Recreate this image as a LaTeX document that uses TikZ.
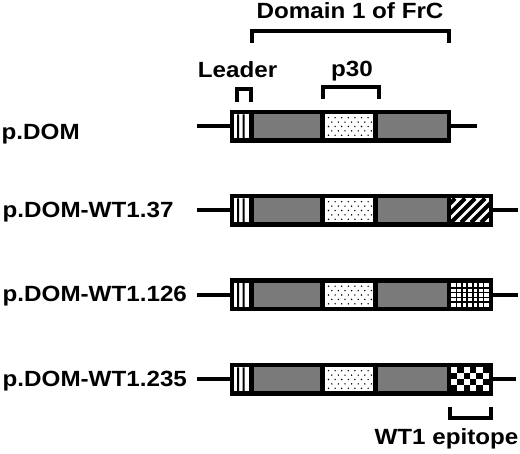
\documentclass[tikz,border=0pt]{standalone}
\usepackage{fontspec}
\setmainfont[FakeStretch=1.1]{Liberation Sans}
\usepackage{tikz}
\usetikzlibrary{calc}
\definecolor{PDgray}{RGB}{122,122,122}
\definecolor{PDink}{RGB}{0,0,0}
\tikzset{
  backbone/.style={line width=4pt,draw=PDink},
  outerbox/.style={rectangle,fill=PDink,inner sep=0pt,outer sep=0pt,minimum height=33pt},
  seg/.style={rectangle,inner sep=0pt,outer sep=0pt,minimum height=24pt},
  grayseg/.style={seg,fill=PDgray},
  whiteseg/.style={seg,fill=white},
  bracket/.style={line width=4pt,draw=PDink,line join=miter},
  lbl/.style={font=\bfseries\fontsize{22}{24}\selectfont,inner sep=0pt,anchor=base west},
  tag/.style={font=\bfseries\fontsize{22}{24}\selectfont,inner sep=0pt,anchor=base}
}
\begin{document}
\begin{tikzpicture}[x=1pt,y=-1pt]
  \useasboundingbox (0,0) rectangle (520,454);

  % headings and their brackets
  \node[tag] (domain) at (350,18.5) {Domain 1 of FrC};
  \node[tag] (leader) at (237.5,78) {Leader};
  \node[tag] (pthirty) at (352,77) {p30};
  \node[tag] (epitope) at (446.5,445) {WT1 epitope};
  \coordinate (domL) at (252,43);
  \coordinate (domR) at (448.5,43);
  \draw[bracket] (domL) -- ++(0,-12) -| (domR);
  \coordinate (leadL) at (237,102);
  \coordinate (leadR) at (251,102);
  \draw[bracket] (leadL) -- ++(0,-13) -| (leadR);
  \coordinate (pL) at (323,99);
  \coordinate (pR) at (379,99);
  \draw[bracket] (pL) -- ++(0,-12) -| (pR);
  \coordinate (epiL) at (450,407);
  \coordinate (epiR) at (491,407);
  \draw[bracket] (epiL) -- ++(0,11) -| (epiR);

  % constructs
  \foreach \n/\y/\xe/\xl in {a/126.5/451/477,b/210.5/493/518,c/295/493/518,d/379.5/493/516}{
    \coordinate (left\n) at (197,\y);
    \coordinate (right\n) at (\xl,\y);
    \draw[backbone] (left\n) -- (right\n);
    \node[outerbox,minimum width={(\xe-230)*1pt}] (box\n) at ({(230+\xe)/2},\y) {};
    % leader: white with two bars
    \node[whiteseg,minimum width=15pt] (lead\n) at (241.5,\y) {};
    \fill[PDink] (237,{\y-12}) rectangle (239,{\y+12}) (242.5,{\y-12}) rectangle (244.5,{\y+12});
    \node[grayseg,minimum width=66pt] (graya\n) at (287,\y) {};
    % p30: white with dots
    \node[whiteseg,minimum width=48pt] (dots\n) at (349,\y) {};
    \foreach \r in {0,...,4}{\foreach \c in {0,...,6}{
      \fill[PDink] ({328.5+6.6*\c+mod(\r,2)*3.3},{\y-8.8+4.4*\r}) circle (0.8);}}
    \node[grayseg,minimum width=69pt] (grayb\n) at (412.5,\y) {};
  }

  % epitope tags
  \node[whiteseg,minimum width=38pt] (epib) at (470,210.5) {};
  \begin{scope}
    \clip (epib.north west) rectangle (epib.south east);
    \foreach \k in {-3,...,5}{\draw[PDink,line width=4.2pt] ({451+\k*10},222.5) -- ({475+\k*10},198.5);}
  \end{scope}
  \node[whiteseg,minimum width=38pt] (epic) at (470,295) {};
  \foreach \k in {1,...,6}{\draw[PDink,line width=1.6pt] ({451+\k*5.43},283) -- ({451+\k*5.43},307);}
  \foreach \k in {1,...,4}{\draw[PDink,line width=1.6pt] (451,{283+\k*4.8}) -- (489,{283+\k*4.8});}
  \node[whiteseg,minimum width=38pt] (epid) at (470,379.5) {};
  \foreach \i in {0,...,5}{\foreach \j in {0,1}{
    \fill[PDink] ({451+\i*6.33},{367.5+(2*\j+1-mod(\i,2))*6}) rectangle ++(6.33,6);}}

  % construct names
  \node[lbl] (namea) at (1.5,140) {p.DOM};
  \node[lbl] (nameb) at (2.5,218) {p.DOM-WT1.37};
  \node[lbl] (namec) at (2.5,302) {p.DOM-WT1.126};
  \node[lbl] (named) at (2.5,386.5) {p.DOM-WT1.235};
\end{tikzpicture}
\end{document}
